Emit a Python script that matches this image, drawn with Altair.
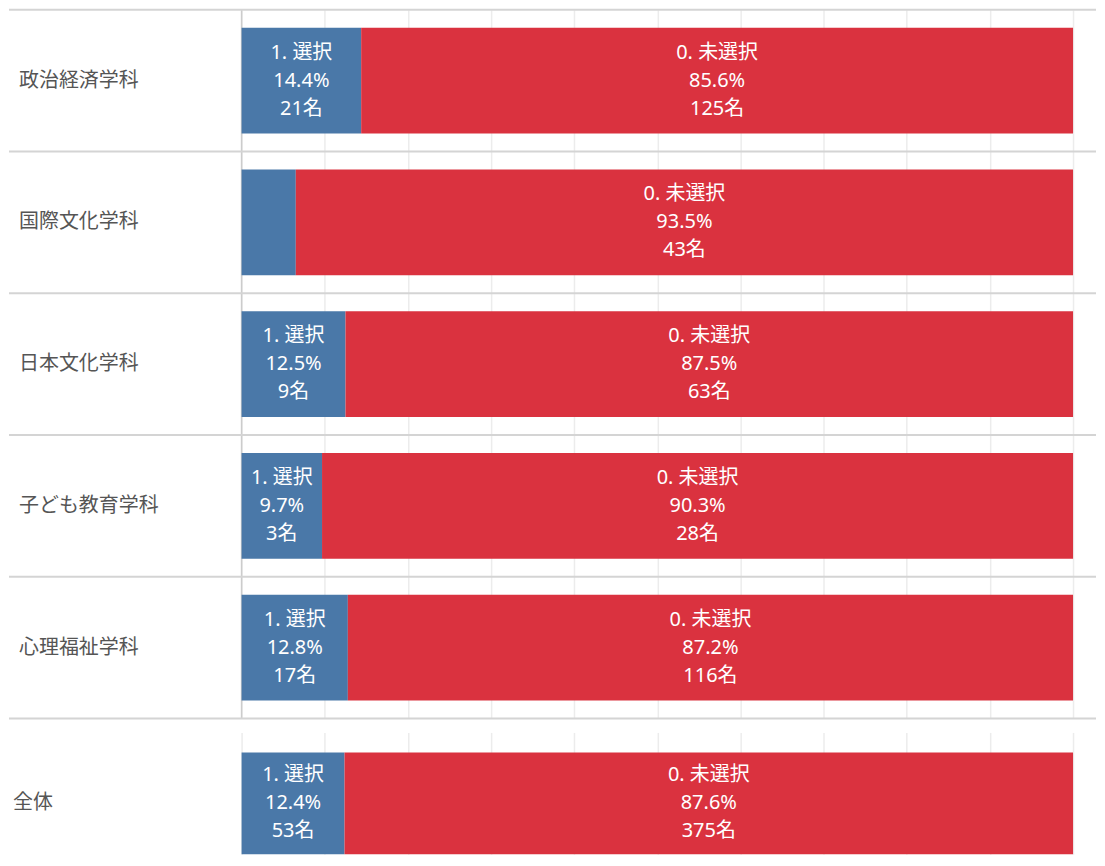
import altair as alt
import pandas as pd

# ---- data ----
depts = ["政治経済学科", "国際文化学科", "日本文化学科", "子ども教育学科", "心理福祉学科"]
selected = [21, 3, 9, 3, 17]
unselected = [125, 43, 63, 28, 116]

total_cat = ["全体"]
total_selected = [53]
total_unselected = [375]

status_labels = ["1. 選択", "0. 未選択"]
grid_values = [0.0, 0.1, 0.2, 0.3, 0.4, 0.5, 0.6, 0.7, 0.8, 0.9, 1.0]

# ---- style ----
BLUE = "#4a78a8"
RED = "#da323f"
FONT = "Noto Sans, Noto Sans CJK JP"
W = 856
UNIT = 833
XMAX = W / UNIT
LEFT = 233


def long_df(cats, sel, unsel):
    rows = []
    for c, s, u in zip(cats, sel, unsel):
        rows.append({"dept": c, "status": status_labels[0], "n": s, "ord": 0})
        rows.append({"dept": c, "status": status_labels[1], "n": u, "ord": 1})
    return pd.DataFrame(rows)


x_scale = alt.Scale(domain=[0, XMAX], nice=False, zero=True)
x_axis = alt.Axis(grid=True, labels=False, ticks=False, domain=False, title=None,
                  values=grid_values, gridColor="#ececec", gridWidth=1.5)
color = alt.Color("status:N", scale=alt.Scale(domain=status_labels, range=[BLUE, RED]), legend=None)


def panel(cats, sel, unsel, height, yscale, bar_height, label_x, with_lines):
    df = long_df(cats, sel, unsel)
    base = alt.Chart(df).transform_joinaggregate(
        total="sum(n)", groupby=["dept"]
    ).transform_calculate(pct="datum.n / datum.total")

    y = alt.Y("dept:N", scale=yscale, axis=None)

    bars = base.mark_bar(height=bar_height) if bar_height else base.mark_bar()
    bars = bars.encode(
        x=alt.X("pct:Q", stack="zero", scale=x_scale, axis=x_axis),
        y=y,
        color=color,
        order=alt.Order("ord:Q", sort="ascending"),
    )

    texts = base.transform_stack(
        stack="pct", groupby=["dept"], as_=["x0", "x1"],
        sort=[alt.SortField("ord", order="ascending")],
    ).transform_calculate(
        mid="(datum.x0 + datum.x1) / 2",
        label="datum.status + '\\n' + format(datum.pct, '.1%') + '\\n' + datum.n + '名'",
    ).transform_filter("datum.pct > 0.08").mark_text(
        color="white", fontSize=20, font=FONT, lineBreak="\n", lineHeight=28,
        baseline="middle", align="center", dy=-28,
    ).encode(
        x=alt.X("mid:Q", scale=x_scale),
        y=y,
        text="label:N",
    )

    cat_df = pd.DataFrame({"dept": cats})
    names = alt.Chart(cat_df).mark_text(
        align="left", baseline="middle", fontSize=20, font=FONT, color="#555555"
    ).encode(x=alt.value(label_x), y=y, text="dept:N")

    layers = [bars, texts, names]
    if with_lines:
        hlines = alt.Chart(cat_df).mark_rule(color="#d4d4d4", strokeWidth=2).encode(
            y=alt.Y("dept:N", scale=yscale, axis=None, bandPosition=0),
            x=alt.value(-LEFT), x2=alt.value(W),
        )
        bottom = alt.Chart(pd.DataFrame({"k": [0]})).mark_rule(color="#d4d4d4", strokeWidth=2).encode(
            y=alt.value(height), x=alt.value(-LEFT), x2=alt.value(W),
        )
        zero = alt.Chart(pd.DataFrame({"k": [0]})).mark_rule(color="#cccccc", strokeWidth=1.5).encode(
            x=alt.datum(0, scale=x_scale)
        )
        layers = [zero] + layers + [hlines, bottom]
    return alt.layer(*layers).properties(width=W, height=height)


top = panel(depts, selected, unselected, 710,
            alt.Scale(domain=depts, paddingInner=0, paddingOuter=0), 106, -223, True)
bot = panel(total_cat, total_selected, total_unselected, 122,
            alt.Scale(domain=total_cat, paddingInner=0, paddingOuter=0.098, align=1), None, -229, False)

chart = alt.vconcat(top, bot, spacing=14, bounds="flush").properties(padding=0).configure_view(
    strokeWidth=0
)

chart.save("out.html", embed_options={"renderer": "svg", "actions": False})
